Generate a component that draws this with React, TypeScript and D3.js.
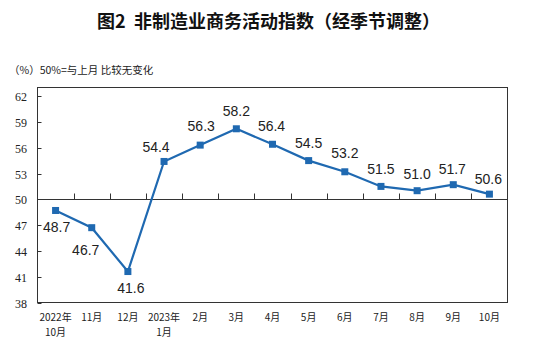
import React from 'react';
import * as d3 from 'd3';

const months = ['2022年|10月', '11月', '12月', '2023年|1月', '2月', '3月', '4月', '5月', '6月', '7月', '8月', '9月', '10月'];
const values = [48.7, 46.7, 41.6, 54.4, 56.3, 58.2, 56.4, 54.5, 53.2, 51.5, 51.0, 51.7, 50.6];
const yTicks = [38, 41, 44, 47, 50, 53, 56, 59, 62];

// label nudges (dx, dy of text centre from point)
const labelPos = [
  [1, 17], [-6, 22], [3, 16], [-8, -14], [1, -19], [0, -18], [-1, -18],
  [0, -18], [0, -19], [0, -17], [0, -17], [-1, -16], [-1, -15],
];

const W = 537;
const H = 363;
const left = 37.5;
const right = 507.5;
const top = 87.5;
const bottom = 302.5;

export default function App() {
  const x = d3.scaleBand<string>().domain(months).range([left, right]);
  const y = d3.scaleLinear().domain([38, 63]).range([bottom, top]);
  const cx = (i: number) => (x(months[i]) as number) + x.bandwidth() / 2;

  const line = d3
    .line<number>()
    .x((_, i) => cx(i))
    .y((d) => y(d));

  const blue = '#1f69b1';
  const y50 = Math.round(y(50)) + 0.5;

  return (
    <svg
      width={W}
      height={H}
      style={{ position: 'absolute', left: 0, top: 0, background: '#fff' }}
      fontFamily="'Noto Sans CJK SC', sans-serif"
    >
      <text x={268.5} y={28} textAnchor="middle" fontSize={18} fontWeight="bold" fill="#111">
        {'图2\u00a0\u00a0非制造业商务活动指数（经季节调整）'}
      </text>
      <text x={9} y={74} fontSize={10.5} fill="#222">
        （%）50%=与上月 比较无变化
      </text>

      <rect x={left} y={top} width={right - left} height={bottom - top} fill="none" stroke="#333" strokeWidth={1} />

      {yTicks.map((t) => {
        const ty = Math.round(y(t)) + 0.5;
        return (
          <g key={t}>
            <line x1={left} x2={left + 4} y1={ty} y2={ty} stroke="#333" />
            <text
              x={27}
              y={ty + 4}
              textAnchor="end"
              fontSize={12}
              fontFamily="'Liberation Serif', serif"
              fill="#222"
            >
              {t}
            </text>
          </g>
        );
      })}

      <line x1={left} x2={right} y1={y50} y2={y50} stroke="#333" />
      {months.slice(1).map((m) => {
        const bx = Math.round(x(m) as number) + 0.5;
        return <line key={m} x1={bx} x2={bx} y1={y50} y2={y50 - 6} stroke="#333" />;
      })}

      {months.map((m, i) =>
        m.split('|').map((part, j) => (
          <text key={m + j} x={cx(i)} y={321 + j * 15} textAnchor="middle" fontSize={10} fill="#222">
            {part}
          </text>
        ))
      )}

      <path d={line(values) as string} fill="none" stroke={blue} strokeWidth={2.2} />
      {values.map((v, i) => (
        <rect key={i} x={cx(i) - 3.5} y={y(v) - 3.5} width={7} height={7} fill={blue} />
      ))}
      {values.map((v, i) => (
        <text
          key={'l' + i}
          x={cx(i) + labelPos[i][0]}
          y={y(v) + labelPos[i][1] + 5}
          textAnchor="middle"
          fontSize={14}
          fontFamily="'Liberation Sans', Arial, sans-serif"
          fill="#222"
        >
          {v.toFixed(1)}
        </text>
      ))}
    </svg>
  );
}
